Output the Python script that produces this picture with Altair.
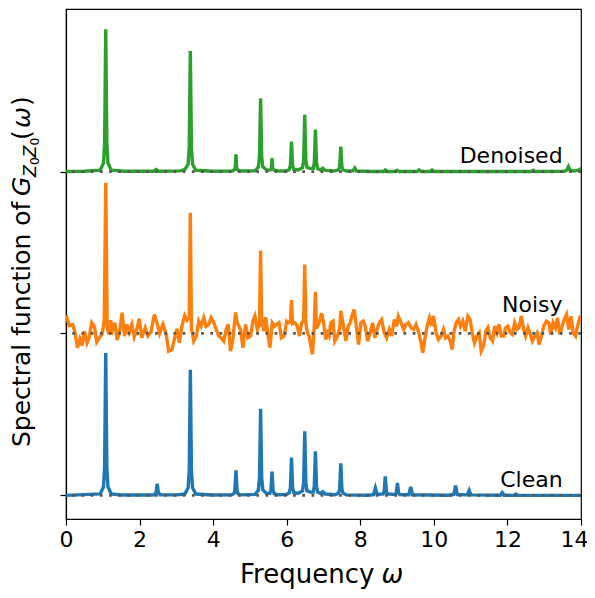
import altair as alt
import pandas as pd

# ---------------- data ----------------
series_names = ["Clean", "Noisy", "Denoised"]
series_colors = ["#1f77b4", "#ff7f0e", "#2ca02c"]
series_offsets = [0.0, 1.0, 2.0]
x_ticks = [0, 2, 4, 6, 8, 10, 12, 14]

clean_x = [0.0, 0.93, 1.02, 1.05, 1.08, 1.11, 1.14, 1.23, 1.5,
           2.33, 2.40, 2.45, 2.48, 2.51, 2.56, 3.0,
           3.23, 3.32, 3.35, 3.38, 3.41, 3.44, 3.53, 4.0,
           4.50, 4.57, 4.59, 4.62, 4.65, 4.67, 4.74,
           5.14, 5.23, 5.26, 5.29, 5.32, 5.35, 5.45,
           5.54, 5.57, 5.60, 5.63, 5.66, 5.75,
           6.0, 6.07, 6.10, 6.13, 6.16, 6.19, 6.30,
           6.43, 6.46, 6.49, 6.52, 6.55, 6.64,
           6.72, 6.75, 6.78, 6.81, 6.84, 6.92, 6.98, 7.05,
           7.32, 7.41, 7.44, 7.47, 7.50, 7.53, 7.62,
           8.2, 8.36, 8.41, 8.46, 8.62, 8.65, 8.68, 8.71, 8.74,
           8.95, 8.98, 9.01, 9.04, 9.07, 9.32, 9.37, 9.42,
           10.4, 10.54, 10.59, 10.64, 10.91, 10.96, 11.01,
           11.81, 11.86, 11.91, 12.18, 12.23, 12.28, 14.0]
clean_y = [0.0, 0.009, 0.053, 0.176, 0.879, 0.176, 0.053, 0.009, 0.002,
           0.002, 0.003, 0.02, 0.072, 0.02, 0.003, 0.003,
           0.008, 0.047, 0.155, 0.776, 0.155, 0.047, 0.008, 0.002,
           0.003, 0.012, 0.031, 0.154, 0.031, 0.012, 0.003,
           0.006, 0.033, 0.107, 0.535, 0.107, 0.035, 0.012,
           0.012, 0.031, 0.146, 0.031, 0.011, 0.004,
           0.006, 0.016, 0.047, 0.233, 0.048, 0.018, 0.012,
           0.027, 0.08, 0.395, 0.08, 0.028, 0.02,
           0.02, 0.056, 0.272, 0.056, 0.02, 0.012, 0.023, 0.008,
           0.004, 0.014, 0.04, 0.198, 0.04, 0.014, 0.003,
           0.001, 0.004, 0.046, 0.006, 0.009, 0.024, 0.117, 0.024, 0.009,
           0.006, 0.016, 0.077, 0.016, 0.005, 0.004, 0.052, 0.004,
           0.001, 0.005, 0.060, 0.005, 0.003, 0.031, 0.003,
           0.001, 0.017, 0.001, 0.0, 0.008, 0.0, 0.0]

noisy_x = [0.0, 0.02, 0.09, 0.18, 0.245, 0.31, 0.38, 0.436, 0.5, 0.572,
           0.636, 0.70, 0.772, 0.836, 0.909, 0.98, 1.04, 1.08, 1.12, 1.163,
           1.21, 1.263, 1.327, 1.39, 1.454, 1.527, 1.59, 1.654, 1.718, 1.79,
           1.854, 1.927, 1.99, 2.063, 2.154, 2.227, 2.309, 2.4, 2.472, 2.545,
           2.636, 2.718, 2.79, 2.88, 2.945, 3.018, 3.08, 3.154, 3.227, 3.29,
           3.35, 3.38, 3.41, 3.472, 3.545, 3.608, 3.672, 3.745, 3.808, 3.881,
           3.945, 4.017, 4.081, 4.154, 4.217, 4.29, 4.354, 4.408, 4.472, 4.535,
           4.61, 4.654, 4.7, 4.745, 4.808, 4.881, 4.945, 5.017, 5.081, 5.135,
           5.2, 5.26, 5.29, 5.32, 5.35, 5.38, 5.426, 5.49, 5.545, 5.608,
           5.672, 5.726, 5.79, 5.854, 5.927, 6.0, 6.063, 6.10, 6.13, 6.16,
           6.226, 6.29, 6.345, 6.408, 6.46, 6.49, 6.52, 6.563, 6.608, 6.70,
           6.75, 6.78, 6.81, 6.88, 6.95, 7.0, 7.06, 7.107, 7.152, 7.198,
           7.261, 7.307, 7.38, 7.443, 7.47, 7.543, 7.607, 7.67, 7.725, 7.77,
           7.834, 7.898, 7.952, 8.016, 8.08, 8.134, 8.198, 8.261, 8.334, 8.398,
           8.452, 8.516, 8.58, 8.652, 8.716, 8.789, 8.852, 8.925, 8.989, 9.034,
           9.107, 9.18, 9.243, 9.307, 9.38, 9.452, 9.516, 9.58, 9.652, 9.698,
           9.761, 9.816, 9.88, 9.943, 9.989, 10.061, 10.125, 10.198, 10.261, 10.316,
           10.38, 10.443, 10.498, 10.542, 10.605, 10.669, 10.724, 10.787, 10.851, 10.924,
           10.987, 11.042, 11.105, 11.169, 11.233, 11.287, 11.351, 11.414, 11.469, 11.533,
           11.596, 11.651, 11.714, 11.769, 11.833, 11.896, 11.951, 12.015, 12.078, 12.133,
           12.196, 12.26, 12.314, 12.378, 12.442, 12.496, 12.56, 12.624, 12.678, 12.742,
           12.805, 12.86, 12.924, 12.987, 13.06, 13.124, 13.178, 13.242, 13.305, 13.36,
           13.424, 13.487, 13.542, 13.605, 13.669, 13.724, 13.787, 13.851, 13.905, 13.969,
           14.0]
noisy_y = [0.09, 0.097, 0.049, 0.056, 0.008, -0.088, -0.033, -0.074, 0.014, -0.058,
           -0.016, 0.066, 0.041, -0.053, -0.027, -0.006, 0.08, 0.93, 0.04, -0.006,
           0.082, 0.021, 0.066, -0.041, 0.008, 0.128, -0.016, 0.056, 0.008, 0.056,
           -0.021, 0.029, 0.091, -0.027, 0.035, -0.016, 0.008, 0.117, 0.066, 0.0,
           0.056, 0.0, -0.109, -0.099, -0.037, 0.029, -0.058, 0.049, 0.111, 0.082,
           0.1, 0.745, 0.03, -0.047, -0.016, 0.076, 0.045, 0.097, 0.045, 0.056,
           0.097, 0.066, 0.025, -0.016, -0.027, -0.047, 0.025, 0.056, -0.109, -0.037,
           0.13, 0.066, 0.045, 0.025, -0.088, 0.056, -0.027, -0.016, 0.076, 0.107,
           0.025, 0.06, 0.512, 0.06, 0.066, 0.014, 0.1, -0.006, -0.088, 0.066,
           0.045, 0.056, 0.066, -0.027, -0.016, 0.076, 0.066, 0.07, 0.206, 0.06,
           0.066, 0.045, -0.016, 0.066, 0.08, 0.426, 0.06, 0.004, -0.016, -0.13,
           0.05, 0.257, 0.03, 0.066, 0.125, 0.07, -0.037, 0.004, -0.016, 0.066,
           0.076, -0.047, -0.016, 0.035, 0.14, 0.045, -0.047, 0.045, 0.066, 0.107,
           0.148, 0.035, -0.068, 0.066, 0.076, 0.045, -0.047, -0.006, 0.066, -0.027,
           0.025, 0.066, 0.086, 0.004, -0.027, 0.025, -0.016, 0.086, 0.045, 0.107,
           0.066, 0.025, 0.056, 0.066, 0.035, 0.025, 0.056, 0.014, -0.058, -0.119,
           -0.027, 0.045, 0.097, 0.045, 0.107, 0.004, -0.037, -0.016, 0.025, -0.027,
           -0.016, -0.047, -0.099, 0.004, 0.066, 0.086, 0.045, 0.076, 0.014, 0.107,
           0.086, 0.004, -0.058, -0.016, 0.004, -0.109, -0.078, 0.014, 0.035, -0.027,
           -0.047, 0.045, 0.004, 0.056, -0.016, -0.016, 0.035, 0.045, 0.004, -0.006,
           0.066, 0.025, 0.035, 0.107, 0.025, -0.016, 0.035, -0.006, -0.047, -0.016,
           0.004, -0.068, -0.016, 0.045, 0.076, 0.066, -0.006, 0.066, 0.035, 0.097,
           -0.006, 0.045, 0.086, 0.117, 0.025, 0.107, 0.004, -0.016, 0.045, 0.097,
           0.09]

denoised_x = [0.0, 0.5, 0.93, 1.02, 1.05, 1.08, 1.11, 1.14, 1.23, 1.6,
              2.38, 2.45, 2.52, 3.1, 3.23, 3.32, 3.35, 3.38, 3.41, 3.44, 3.53, 4.0,
              4.52, 4.58, 4.60, 4.62, 4.64, 4.66, 4.75,
              5.14, 5.23, 5.26, 5.29, 5.32, 5.35, 5.45,
              5.55, 5.58, 5.60, 5.62, 5.66, 5.8,
              6.0, 6.07, 6.10, 6.13, 6.16, 6.19, 6.30,
              6.43, 6.46, 6.49, 6.52, 6.55, 6.64,
              6.72, 6.75, 6.78, 6.81, 6.84, 6.92, 6.98, 7.05,
              7.32, 7.41, 7.44, 7.47, 7.50, 7.53, 7.62,
              7.80, 7.85, 7.90, 8.3, 8.63, 8.68, 8.73, 8.95, 9.0, 9.05,
              9.55, 9.6, 9.65, 9.9, 9.95, 10.0, 12.65, 12.7, 12.75,
              13.55, 13.62, 13.66, 13.70, 13.8, 13.95, 14.0]
denoised_y = [0.0, 0.002, 0.009, 0.053, 0.176, 0.879, 0.176, 0.053, 0.009, 0.002,
              0.002, 0.012, 0.002, 0.004, 0.012, 0.045, 0.149, 0.745, 0.149, 0.045, 0.008, 0.002,
              0.003, 0.012, 0.025, 0.107, 0.025, 0.011, 0.003,
              0.005, 0.028, 0.09, 0.453, 0.09, 0.03, 0.01,
              0.009, 0.02, 0.083, 0.02, 0.008, 0.003,
              0.005, 0.013, 0.037, 0.185, 0.038, 0.014, 0.01,
              0.024, 0.07, 0.35, 0.07, 0.026, 0.018,
              0.019, 0.053, 0.259, 0.053, 0.019, 0.01, 0.021, 0.007,
              0.004, 0.011, 0.031, 0.154, 0.031, 0.011, 0.003,
              0.004, 0.022, 0.003, 0.0, 0.0, 0.01, 0.0, 0.0, 0.008, 0.0,
              0.0, 0.01, 0.0, 0.0, 0.01, 0.0, 0.0, 0.008, 0.0,
              0.002, 0.01, 0.03, 0.01, 0.003, 0.01, 0.02]

# ---------------- tables ----------------
rows = []
for name, xs, ys, off in [("Clean", clean_x, clean_y, series_offsets[0]),
                          ("Noisy", noisy_x, noisy_y, series_offsets[1]),
                          ("Denoised", denoised_x, denoised_y, series_offsets[2])]:
    for i, (xv, yv) in enumerate(zip(xs, ys)):
        rows.append({"series": name, "idx": i, "x": xv, "y": yv + off})
df = pd.DataFrame(rows)

base_df = pd.DataFrame({"series": series_names, "y": series_offsets})
lab_df = pd.DataFrame({"series": series_names,
                       "lx": [13.5, 13.5, 13.5],
                       "ly": [o + d for o, d in zip(series_offsets, [0.052, 0.13, 0.052])]})

X_DOM = [0, 14]
Y_DOM = [-0.146, 3.004]
FONT = "DejaVu Sans"

xscale = alt.Scale(domain=X_DOM, nice=False, zero=False)
yscale = alt.Scale(domain=Y_DOM, nice=False, zero=False)
cscale = alt.Scale(domain=series_names, range=series_colors)

xaxis = alt.Axis(values=x_ticks, title=None, grid=False, labelFont=FONT,
                 labelFontSize=22, labelColor="black", labelPadding=4,
                 labelOffset={"condition": {"test": "datum.value == 14", "value": -7},
                              "value": 0},
                 tickSize=6, tickColor="black", tickWidth=1.2,
                 domainColor="black", domainWidth=1.2, labelFlush=False)
yaxis = alt.Axis(values=series_offsets, title=None, grid=False, labels=False,
                 tickSize=6, tickColor="black", tickWidth=1.2,
                 domainColor="black", domainWidth=1.2)

lines = alt.Chart(df).mark_line(strokeWidth=3.4, clip=True).encode(
    x=alt.X("x:Q", scale=xscale, axis=xaxis),
    y=alt.Y("y:Q", scale=yscale, axis=yaxis),
    color=alt.Color("series:N", scale=cscale, legend=None),
    order=alt.Order("idx:Q"),
    detail="series:N",
)

dots = alt.Chart(base_df).mark_rule(color="#555555", strokeWidth=2.7,
                                    strokeDash=[2.7, 6.5]).encode(
    y=alt.Y("y:Q", scale=yscale),
)

labels = alt.Chart(lab_df).mark_text(align="right", baseline="alphabetic",
                                     font=FONT, fontSize=22, color="black").encode(
    x=alt.X("lx:Q", scale=xscale),
    y=alt.Y("ly:Q", scale=yscale),
    text="series:N",
)

one = pd.DataFrame({"a": [0]})


def piece(text, px, py, size, italic=False, angle=0, align="left"):
    kw = dict(text=text, font=FONT, fontSize=size, color="black",
              align=align, baseline="alphabetic")
    if italic:
        kw["fontStyle"] = "italic"
    if angle:
        kw["angle"] = angle
    return alt.Chart(one).mark_text(**kw).encode(x=alt.value(px), y=alt.value(py))


# y-axis title pieces (rotated, reading upwards)
YB = -36.5
ytitle = [
    piece("Spectral function of ", YB, 438, 25, angle=270),
    piece("G", YB, 187, 25, italic=True, angle=270),
    piece("Z", YB + 6, 168, 17.5, italic=True, angle=270),
    piece("0", YB + 9, 156, 12.25, angle=270),
    piece("Z", YB + 6, 148.5, 17.5, italic=True, angle=270),
    piece("0", YB + 9, 136.5, 12.25, angle=270),
    piece("(", YB, 131, 25, angle=270),
    piece("ω", YB, 119, 25, italic=True, angle=270),
    piece(")", YB, 97, 25, angle=270),
]
XT_Y = 574
xtitle = [
    piece("Frequency ", 174, XT_Y, 26),
    piece("ω", 315.5, XT_Y, 26, italic=True),
]

chart = alt.layer(lines, dots, labels, *ytitle, *xtitle).properties(
    width=515, height=510,
    autosize=alt.AutoSizeParams(type="none"),
    padding={"left": 58, "top": 1, "right": 6, "bottom": 71},
).configure_view(stroke="black", strokeWidth=1.2)

chart.save("out.html", embed_options={"renderer": "svg", "actions": False})
